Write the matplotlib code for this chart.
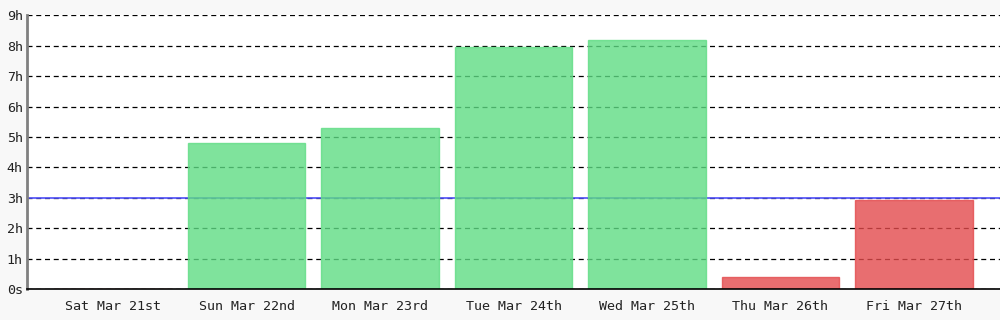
import matplotlib
matplotlib.use("Agg")
import matplotlib.pyplot as plt

# ── Data ──────────────────────────────────────────────────────────────────────
days = ["Sat Mar 21st", "Sun Mar 22nd", "Mon Mar 23rd", "Tue Mar 24th",
        "Wed Mar 25th", "Thu Mar 26th", "Fri Mar 27th"]
hours = [0.0, 4.80, 5.29, 7.95, 8.18, 0.39, 2.92]
goal_hours = 3
y_ticks = list(range(10))
y_labels = ["0s"] + [f"{h}h" for h in range(1, 10)]

GREEN = "#5fdc84"
RED = "#e34a4c"
BLUE = "#4f4ff8"

fig = plt.figure(figsize=(10, 3.2), dpi=100)
fig.patch.set_facecolor("#f8f8f8")
ax = fig.add_axes([0.027, 0.097, 0.973, 0.855])
ax.set_facecolor("white")

colors = [GREEN if h >= goal_hours else RED for h in hours]
x = list(range(len(days)))
ax.bar(x, hours, width=0.88, color=colors, alpha=0.8, edgecolor=colors,
       linewidth=1, zorder=3)

# goal line sits behind the translucent bars
ax.axhline(goal_hours, color=BLUE, lw=1.2, zorder=2)

ax.set_xlim(-0.645, len(days) - 1 + 0.645)
ax.set_ylim(0, 9)
ax.set_yticks(y_ticks)
ax.set_yticklabels(y_labels)
ax.set_xticks(x)
ax.set_xticklabels(days)
for t in ax.get_xticklabels() + ax.get_yticklabels():
    t.set_family("DejaVu Sans Mono")
    t.set_fontsize(9.6)
    t.set_color("#222222")
ax.tick_params(axis="x", length=0, pad=8)
ax.tick_params(axis="y", length=0, pad=3)

ax.grid(axis="y", color="black", linestyle=(0, (4, 3)), lw=0.9, zorder=1)
ax.set_axisbelow(True)

for side in ("top", "right"):
    ax.spines[side].set_visible(False)
ax.spines["left"].set_color("#808080")
ax.spines["left"].set_linewidth(2)
ax.spines["bottom"].set_color("black")
ax.spines["bottom"].set_linewidth(1.2)
ax.spines["bottom"].set_zorder(5)

fig.savefig("out.png", dpi=100, facecolor=fig.get_facecolor())
